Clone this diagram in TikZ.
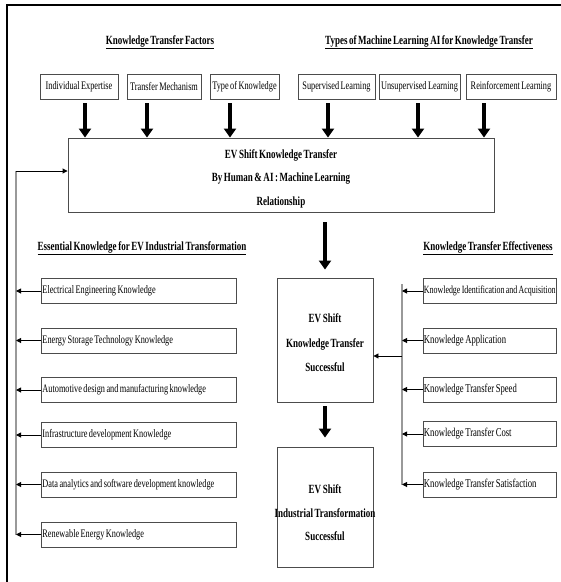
\documentclass[tikz,border=0pt]{standalone}
\usepackage{fontspec}
\setmainfont{Liberation Serif}[FakeStretch=0.72, WordSpace=0.7]
\usetikzlibrary{arrows.meta}
\newcommand{\nohyph}{\hyphenpenalty=10000 \exhyphenpenalty=10000\relax}
\begin{document}
\begin{tikzpicture}[x=1pt,y=-1pt,
  box/.style={draw=black!70, line width=0.9pt, inner sep=0pt, font=\fontsize{11.5}{13}\selectfont},
  lbox/.style={box, minimum height=25pt, text width=193pt, inner xsep=1pt, align=flush left, anchor=west,
    execute at begin node={\nohyph}},
  rbox/.style={box, minimum height=25pt, minimum width=133pt, inner xsep=0.5pt, anchor=west, font=\fontsize{12}{13}\selectfont},
  tbox/.style={box, minimum height=25pt},
  frame/.style={draw=black!70, line width=0.9pt, inner sep=0pt},
  ctext/.style={inner sep=0pt, align=center, font=\bfseries\fontsize{12.5}{24.5}\selectfont},
  head/.style={font=\bfseries\fontsize{12.5}{14}\selectfont, inner sep=0pt},
  bigarrow/.style={line width=4pt, draw=black, -{Triangle[width=12pt,length=9pt]}},
  smallarrow/.style={line width=0.9pt, draw=black, -{Triangle[width=5pt,length=5pt]}},
  greyline/.style={line width=1.2pt, draw=black!40}]
\useasboundingbox (0,0) rectangle (561,582);
% frame
\draw[line width=2.7pt] (7,582) -- (7,5) -- (561,5);
% headers
\node[head] (h1) at (160,42) {\underline{Knowledge Transfer Factors}};
\node[head] (h2) at (429,42) {\underline{Types of  Machine Learning  AI for Knowledge Transfer}};
\node[head] (h3) at (142,248) {\underline{Essential Knowledge  for EV Industrial Transformation}};
\node[head] (h4) at (488,248) {\underline{Knowledge Transfer Effectiveness}};
% top boxes
\node[tbox, minimum width=78pt] (f1) at (79,86.5) {Individual Expertise};
\node[tbox, minimum width=74pt] (f2) at (164,86.5) {Transfer Mechanism};
\node[tbox, minimum width=69pt] (f3) at (244.5,86.5) {Type of Knowledge};
\node[tbox, minimum width=77pt] (f4) at (336.5,86.5) {Supervised Learning};
\node[tbox, minimum width=81pt] (f5) at (419.5,86.5) {Unsupervised Learning};
\node[tbox, minimum width=90pt] (f6) at (511,86.5) {Reinforcement Learning};
% main box
\node[frame, minimum width=426pt, minimum height=74pt] (main) at (281,175) {};
\node[ctext, font=\bfseries\fontsize{12.5}{23.5}\selectfont] (maint) at ([yshift=-3.5pt]main.center)
  {EV Shift Knowledge Transfer\\By Human  \& AI : Machine Learning\\Relationship};
% top arrows
\foreach \i/\x in {1/85,2/147,3/230,4/328,5/418,6/484}{
  \coordinate (a\i) at (\x,103);
  \draw[bigarrow] (a\i) -- (a\i |- main.north);
}
% centre boxes
\node[frame, minimum width=96pt, minimum height=124pt] (s1) at (325,340) {};
\node[ctext] (s1t) at ([yshift=-3pt]s1.center) {EV Shift\\Knowledge Transfer\\Successful};
\node[frame, minimum width=96pt, minimum height=120pt] (s2) at (325,507) {};
\node[ctext, font=\bfseries\fontsize{12.5}{23.5}\selectfont] (s2t) at ([yshift=-6pt]s2.center)
  {EV Shift\\Industrial Transformation\\Successful};
\coordinate (m1) at (325,222);
\draw[bigarrow] (m1) -- ([yshift=8pt]s1.north);
\draw[bigarrow] ([yshift=-4pt]s1.south) -- ([yshift=9pt]s2.north);
% left boxes
\node[lbox] (l1) at (41,291) {Electrical Engineering Knowledge};
\node[lbox] (l2) at (41,340.5) {Energy Storage Technology Knowledge};
\node[lbox] (l3) at (41,390) {Automotive design and manufacturing knowledge};
\node[lbox] (l4) at (41,435) {Infrastructure development Knowledge};
\node[lbox] (l5) at (41,484.5) {Data analytics and software development knowledge};
\node[lbox] (l6) at (41,534.5) {Renewable Energy Knowledge};
\coordinate (lv) at (16,171);
\draw[greyline] (lv) -- (lv |- l6.west);
\draw[smallarrow] (lv) -- (lv -| main.west);
\foreach \i in {1,...,6}{
  \draw[smallarrow] (l\i.west) -- (l\i.west -| lv);
}
% right boxes
\node[rbox, font=\fontsize{11}{13}\selectfont] (r1) at (423,291) {\makebox[132pt][l]{Knowledge Identification and Acquisition}};
\node[rbox] (r2) at (423,340.5) {\makebox[132pt][l]{Knowledge Application}};
\node[rbox] (r3) at (423,389.5) {\makebox[132pt][l]{Knowledge Transfer Speed}};
\node[rbox] (r4) at (423,434) {\makebox[132pt][l]{Knowledge Transfer Cost}};
\node[rbox] (r5) at (423,484.5) {\makebox[132pt][l]{Knowledge Transfer Satisfaction}};
\coordinate (rv) at (402,284);
\draw[greyline] (rv) -- (rv |- r5.west);
\foreach \i in {1,...,5}{
  \draw[smallarrow] (r\i.west) -- (r\i.west -| rv);
}
\coordinate (rc) at (402,356);
\draw[smallarrow] (rc) -- (rc -| s1.east);
\end{tikzpicture}
\end{document}
